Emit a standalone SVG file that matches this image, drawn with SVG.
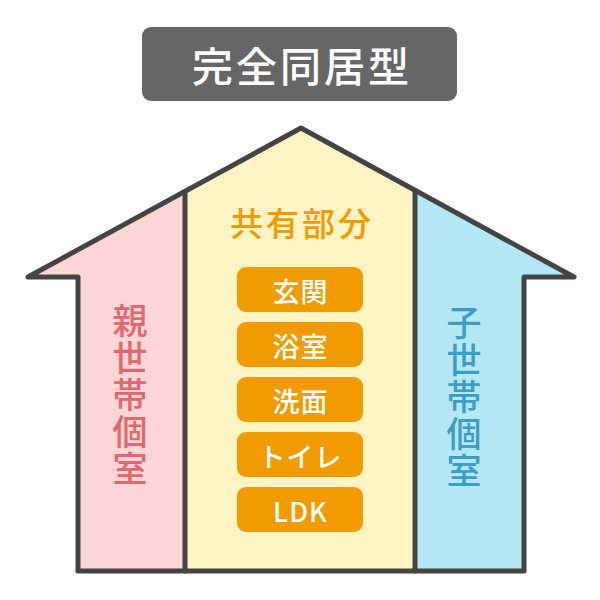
<svg xmlns="http://www.w3.org/2000/svg" width="600" height="600" viewBox="0 0 600 600">
<style>
.jp{font-family:"Noto Sans CJK JP","Noto Sans",sans-serif;font-weight:500;text-anchor:middle;dominant-baseline:central}
.vt{font-family:"Noto Sans CJK JP","Noto Sans",sans-serif;font-weight:500;writing-mode:vertical-rl;font-size:35px;letter-spacing:2px}
.outline{fill:none;stroke:#444;stroke-width:5;stroke-linejoin:round;stroke-linecap:round}
.room{fill:#f29b00}
.roomt{fill:#fff;font-size:27px;letter-spacing:1px}
</style>
<rect width="600" height="600" fill="#fff"/>
<g id="title">
<rect x="142" y="27" width="315" height="74" rx="9" fill="#666"/>
<text class="jp" x="302" y="64" font-size="41" letter-spacing="3" fill="#fff">完全同居型</text>
</g>
<g id="house">
<polygon id="shared-area" points="185,192 301,128 415,192 415,571 185,571" fill="#fff4c4"/>
<polygon id="parent-area" points="28,277 185,192 185,571 78,571 78,277" fill="#ffd6d8"/>
<polygon id="child-area" points="415,192 574,277 524,277 524,571 415,571" fill="#b5e8f5"/>
<path class="outline" d="M78,571 L78,277 L28,277 L301,128 L574,277 L524,277 L524,571 Z"/>
<line class="outline" x1="185" y1="192" x2="185" y2="571"/>
<line class="outline" x1="415" y1="192" x2="415" y2="571"/>
</g>
<g id="parent">
<text class="vt" x="130" y="303" fill="#e0686e">親世帯個室</text>
</g>
<g id="child">
<text class="vt" x="464" y="305" fill="#3d9ec3">子世帯個室</text>
</g>
<g id="shared">
<text class="jp" x="302" y="222" font-size="33" letter-spacing="3" fill="#f29b00">共有部分</text>
<g id="genkan"><rect class="room" x="237" y="267" width="126" height="45" rx="9"/><text class="jp roomt" x="300.5" y="290">玄関</text></g>
<g id="yokushitsu"><rect class="room" x="237" y="322" width="126" height="45" rx="9"/><text class="jp roomt" x="300.5" y="345">浴室</text></g>
<g id="senmen"><rect class="room" x="237" y="377" width="126" height="45" rx="9"/><text class="jp roomt" x="300.5" y="400">洗面</text></g>
<g id="toilet"><rect class="room" x="237" y="432" width="126" height="45" rx="9"/><text class="jp roomt" x="300.5" y="455" letter-spacing="6">トイレ</text></g>
<g id="ldk"><rect class="room" x="237" y="487" width="126" height="45" rx="9"/><text class="jp roomt" x="300.5" y="510">LDK</text></g>
</g>
</svg>
